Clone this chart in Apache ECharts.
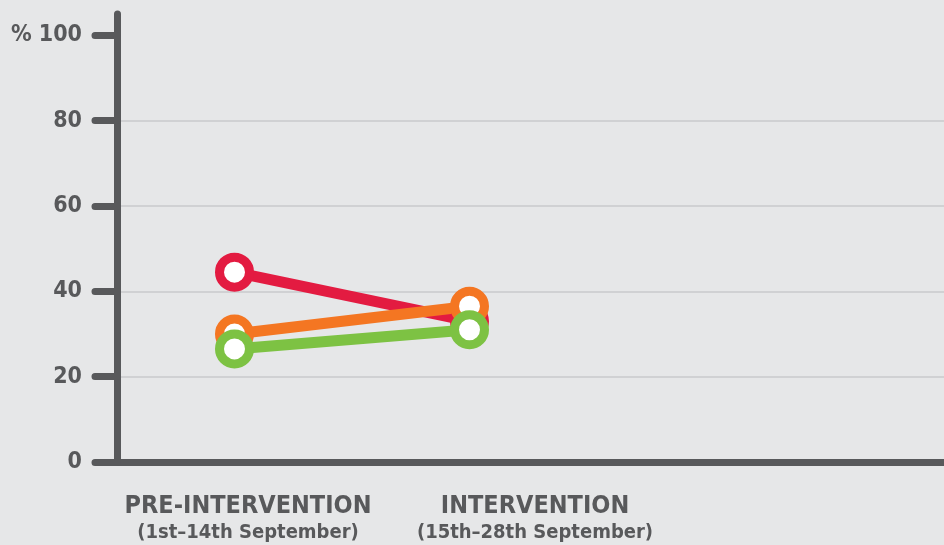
<!DOCTYPE html>
<html>
<head>
<meta charset="utf-8">
<script src="https://cdn.jsdelivr.net/npm/echarts@6/dist/echarts.min.js"></script>
<style>
  html, body { margin: 0; padding: 0; background: #e6e7e8; }
  #chart { width: 944px; height: 545px; }
</style>
</head>
<body>
<div id="chart"></div>
<script>
// 数据
const categories = ['PRE-INTERVENTION', 'INTERVENTION', '', ''];
const subtitles = ['(1st–14th September)', '(15th–28th September)'];
const redValues = [44.5, 33];
const orangeValues = [30, 36.5];
const greenValues = [26.5, 31];
const yTicks = [0, 20, 40, 60, 80, 100];

const axisColor = '#58595b';
const font = "'Liberation Sans Narrow', 'DejaVu Sans Condensed', sans-serif";

const chart = echarts.init(document.getElementById('chart'));

function lineSeries(name, data, color) {
  return {
    name: name,
    type: 'line',
    data: data,
    symbol: 'circle',
    symbolSize: 30,
    lineStyle: { color: color, width: 11 },
    itemStyle: { color: '#fff', borderColor: color, borderWidth: 9 },
    emphasis: { disabled: true }
  };
}

chart.setOption({
  backgroundColor: '#e6e7e8',
  animation: false,
  grid: {
    left: 117, top: 14, width: 940, bottom: 83,
    containLabel: false,
    outerBoundsMode: 'none'
  },
  xAxis: {
    type: 'category',
    data: categories,
    boundaryGap: true,
    axisLine: { lineStyle: { color: axisColor, width: 7, cap: 'round' } },
    axisTick: { show: false },
    axisLabel: {
      margin: 30,
      interval: 0,
      formatter: function (v, i) {
        if (i > 1) return '';
        return '{t' + i + '|' + v + '}\n{s' + i + '|' + subtitles[i] + '}';
      },
      rich: {
        t0: { fontFamily: font, fontWeight: 'bold', fontSize: 25, color: axisColor, lineHeight: 28, padding: [0, 0, 0, 27] },
        s0: { fontFamily: font, fontWeight: 'bold', fontSize: 20, color: axisColor, lineHeight: 25, padding: [0, 0, 0, 27] },
        t1: { fontFamily: font, fontWeight: 'bold', fontSize: 25, color: axisColor, lineHeight: 28, padding: [0, 0, 0, 131] },
        s1: { fontFamily: font, fontWeight: 'bold', fontSize: 20, color: axisColor, lineHeight: 25, padding: [0, 0, 0, 131] }
      }
    },
    splitLine: { show: false }
  },
  yAxis: {
    type: 'value',
    min: 0,
    max: 105,
    interval: 20,
    axisLine: { show: true, lineStyle: { color: axisColor, width: 7, cap: 'round' } },
    axisTick: {
      show: true,
      length: 22,
      customValues: yTicks,
      lineStyle: { color: axisColor, width: 7, cap: 'round' }
    },
    axisLabel: {
      margin: 35,
      customValues: yTicks,
      fontFamily: font,
      fontWeight: 'bold',
      fontSize: 23,
      color: axisColor,
      formatter: function (v) { return v === 100 ? '% 100' : (v > 100 ? '' : String(v)); }
    },
    splitLine: {
      show: true,
      showMaxLine: false,
      lineStyle: { color: '#d0d1d3', width: 2 }
    }
  },
  series: [
    lineSeries('red', redValues, '#e31b41'),
    lineSeries('orange', orangeValues, '#f47622'),
    lineSeries('green', greenValues, '#7dc243')
  ]
});
</script>
</body>
</html>
